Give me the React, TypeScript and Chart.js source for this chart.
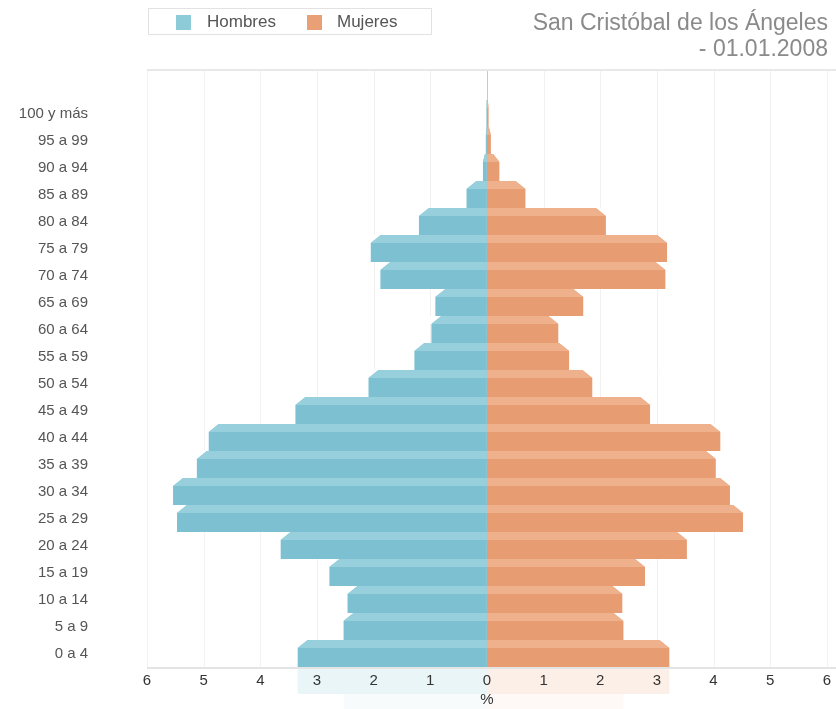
import React, { useEffect, useRef } from "react";
import { Chart, registerables } from "chart.js";

Chart.register(...registerables);

const ageGroups = [
  "100 y más", "95 a 99", "90 a 94", "85 a 89", "80 a 84", "75 a 79", "70 a 74",
  "65 a 69", "60 a 64", "55 a 59", "50 a 54", "45 a 49", "40 a 44", "35 a 39",
  "30 a 34", "25 a 29", "20 a 24", "15 a 19", "10 a 14", "5 a 9", "0 a 4",
];
const hombres = [
  0.01, 0.02, 0.07, 0.36, 1.2, 2.05, 1.88, 0.91, 0.98, 1.28, 2.09,
  3.38, 4.91, 5.12, 5.54, 5.47, 3.64, 2.78, 2.46, 2.53, 3.34,
];
const mujeres = [
  0.03, 0.07, 0.22, 0.68, 2.1, 3.18, 3.15, 1.7, 1.26, 1.45, 1.86,
  2.88, 4.12, 4.04, 4.29, 4.52, 3.53, 2.79, 2.39, 2.41, 3.22,
];
const xTickValues = [-6, -5, -4, -3, -2, -1, 0, 1, 2, 3, 4, 5, 6];

const FONT = "'Liberation Sans', Arial, Helvetica, sans-serif";
const BLUE = "#7cc0d1";
const BLUE_FACE = "#98cfdc";
const ORANGE = "#e89c72";
const ORANGE_FACE = "#efb08c";

const pyramidPlugin = {
  id: "pyramid3d",
  beforeDraw(chart: any) {
    const { ctx, chartArea, scales } = chart;
    const x = scales.x;
    const frameTop = chartArea.top - 30;
    ctx.save();
    // faint reflection below the axis
    ctx.beginPath();
    ctx.rect(chartArea.left, chartArea.bottom + 2, chartArea.right - chartArea.left, chart.height - chartArea.bottom);
    ctx.clip();
    chart.data.datasets.forEach((ds: any, i: number) => {
      const meta = chart.getDatasetMeta(i);
      meta.data.forEach((el: any) => {
        const p = el.getProps(["x", "y", "base", "height"], true);
        const top = p.y - p.height / 2;
        const bot = p.y + p.height / 2;
        const rTop = 2 * chartArea.bottom - bot;
        const rBot = 2 * chartArea.bottom - top;
        if (rTop > chart.height) return;
        const mid = (rTop + rBot) / 2;
        const a = Math.max(0, 0.22 * (1 - (mid - chartArea.bottom) / 55));
        ctx.globalAlpha = a;
        ctx.fillStyle = i === 0 ? BLUE : ORANGE;
        const left = Math.min(p.x, p.base);
        const w = Math.abs(p.x - p.base);
        ctx.fillRect(left, rTop, w, rBot - rTop);
      });
    });
    ctx.restore();
    ctx.save();
    // vertical grid lines
    xTickValues.forEach((v) => {
      const px = Math.round(x.getPixelForValue(v)) + 0.5;
      ctx.strokeStyle = v === 0 ? "#d8c4b6" : "#f1f1f1";
      ctx.lineWidth = 1;
      ctx.beginPath();
      ctx.moveTo(px, frameTop);
      ctx.lineTo(px, chartArea.bottom);
      ctx.stroke();
    });
    // top frame line
    ctx.strokeStyle = "#e8e8e8";
    ctx.lineWidth = 2;
    ctx.beginPath();
    ctx.moveTo(chartArea.left, frameTop);
    ctx.lineTo(chart.width, frameTop);
    ctx.stroke();
    ctx.restore();
  },
  afterDatasetsDraw(chart: any) {
    const { ctx, chartArea } = chart;
    const faceH = 8;
    ctx.save();
    chart.data.datasets.forEach((ds: any, i: number) => {
      const meta = chart.getDatasetMeta(i);
      meta.data.forEach((el: any) => {
        const p = el.getProps(["x", "y", "base", "height"], true);
        const len = Math.abs(p.x - p.base);
        if (len < 0.5) return;
        const dir = p.x < p.base ? 1 : -1;
        const inset = Math.min(10, len * 0.5);
        const top = Math.round(p.y - p.height / 2);
        // cut the back corner
        ctx.fillStyle = "#ffffff";
        ctx.beginPath();
        ctx.moveTo(p.x - dir * 1.5, top);
        ctx.lineTo(p.x + dir * inset, top);
        ctx.lineTo(p.x, top + faceH);
        ctx.lineTo(p.x - dir * 1.5, top + faceH);
        ctx.closePath();
        ctx.fill();
        // top face
        ctx.fillStyle = i === 0 ? BLUE_FACE : ORANGE_FACE;
        ctx.beginPath();
        ctx.moveTo(p.x, top + faceH);
        ctx.lineTo(p.x + dir * inset, top);
        ctx.lineTo(p.base, top);
        ctx.lineTo(p.base, top + faceH);
        ctx.closePath();
        ctx.fill();
      });
    });
    // bottom axis line
    ctx.strokeStyle = "#e4e4e4";
    ctx.lineWidth = 2;
    ctx.beginPath();
    ctx.moveTo(chartArea.left, chartArea.bottom + 1);
    ctx.lineTo(chart.width, chartArea.bottom + 1);
    ctx.stroke();
    ctx.restore();
  },
};

export default function App() {
  const canvasRef = useRef<HTMLCanvasElement | null>(null);

  useEffect(() => {
    if (!canvasRef.current) return;
    const chart = new Chart(canvasRef.current, {
      type: "bar",
      data: {
        labels: ageGroups,
        datasets: [
          {
            label: "Hombres",
            data: hombres.map((v) => -v),
            backgroundColor: BLUE,
            borderWidth: 0,
            inflateAmount: 0,
            barPercentage: 1,
            categoryPercentage: 1,
          },
          {
            label: "Mujeres",
            data: mujeres,
            backgroundColor: ORANGE,
            borderWidth: 0,
            inflateAmount: 0,
            barPercentage: 1,
            categoryPercentage: 1,
          },
        ],
      },
      options: {
        indexAxis: "y",
        animation: false,
        responsive: false,
        maintainAspectRatio: false,
        layout: { padding: { top: 100, right: 8, bottom: 0, left: 0 } },
        plugins: {
          legend: { display: false },
          tooltip: { enabled: false },
          title: { display: false },
        },
        scales: {
          x: {
            stacked: true,
            min: -6,
            max: 6,
            grid: { display: false, drawTicks: false },
            border: { display: false },
            ticks: {
              stepSize: 1,
              padding: 5,
              color: "#333333",
              font: { family: FONT, size: 15 },
              callback: (v: any) => String(Math.abs(Number(v))),
            },
            title: {
              display: true,
              text: "%",
              color: "#333333",
              font: { family: FONT, size: 15 },
              padding: { top: 0, bottom: 0 },
            },
            afterFit: (scale: any) => {
              scale.height = 42;
            },
          },
          y: {
            stacked: true,
            grid: { display: false, drawTicks: false },
            border: { display: false },
            ticks: {
              padding: 59,
              color: "#555555",
              font: { family: FONT, size: 15 },
              autoSkip: false,
            },
            afterFit: (scale: any) => {
              scale.width = 147;
              scale.paddingTop = 0;
              scale.paddingBottom = 0;
            },
          },
        },
      },
      plugins: [pyramidPlugin],
    });
    return () => chart.destroy();
  }, []);

  return (
    <div
      style={{
        position: "absolute",
        left: 0,
        top: 0,
        width: 836,
        height: 709,
        background: "#ffffff",
        fontFamily: FONT,
        overflow: "hidden",
      }}
    >
      <canvas ref={canvasRef} width={836} height={709} style={{ display: "block" }} />
      <div
        style={{
          position: "absolute",
          left: 148,
          top: 8,
          width: 284,
          height: 27,
          border: "1px solid #e2e2e2",
          boxSizing: "border-box",
          fontSize: 17,
          color: "#555555",
        }}
      >
        <div style={{ position: "absolute", left: 27, top: 6, width: 15, height: 15, background: "#8ecbd9" }} />
        <div style={{ position: "absolute", left: 58, top: 3, lineHeight: "20px" }}>Hombres</div>
        <div style={{ position: "absolute", left: 158, top: 6, width: 15, height: 15, background: "#e9a077" }} />
        <div style={{ position: "absolute", left: 188, top: 3, lineHeight: "20px" }}>Mujeres</div>
      </div>
      <div
        style={{
          position: "absolute",
          right: 8,
          top: 9,
          textAlign: "right",
          fontSize: 23,
          lineHeight: "26px",
          color: "#8a8a8a",
        }}
      >
        <div>San Cristóbal de los Ángeles</div>
        <div>- 01.01.2008</div>
      </div>
    </div>
  );
}
